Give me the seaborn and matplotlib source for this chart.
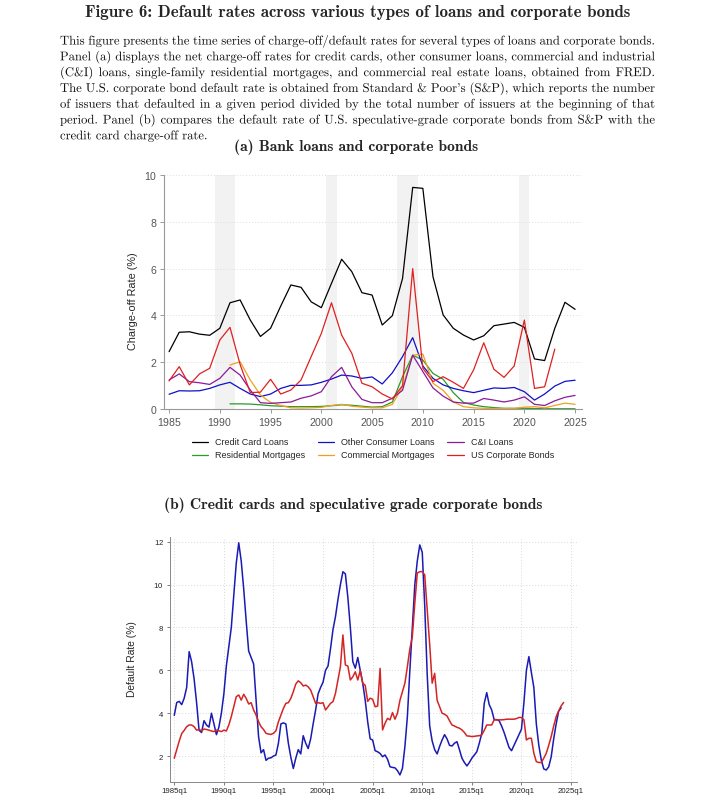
import numpy as np
import pandas as pd
import matplotlib
matplotlib.use("Agg")
import matplotlib.pyplot as plt
import seaborn as sns
from matplotlib.textpath import TextPath, TextToPath
from matplotlib.patches import PathPatch
from matplotlib.font_manager import FontProperties
from matplotlib.transforms import IdentityTransform

# Panel (a): annual charge-off / default rates (%)
years_a = list(range(1985, 2026))
years_mort = list(range(1991, 2026))
years_bonds = list(range(1985, 2024))

credit_card = [2.45, 3.28, 3.3, 3.2, 3.15, 3.45, 4.54, 4.66, 3.8, 3.1,
               3.45, 4.4, 5.3, 5.2, 4.58, 4.33, 5.37, 6.4, 5.87, 4.97,
               4.87, 3.59, 3.99, 5.58, 9.47, 9.43, 5.65, 4.02, 3.45, 3.16,
               2.95, 3.13, 3.56, 3.63, 3.7, 3.49, 2.14, 2.07, 3.45, 4.56, 4.26]
other_consumer = [0.63, 0.78, 0.77, 0.78, 0.88, 1.03, 1.14, 0.88, 0.64, 0.53,
                  0.64, 0.88, 1.01, 1.01, 1.03, 1.14, 1.28, 1.45, 1.41, 1.31,
                  1.37, 1.07, 1.55, 2.24, 3.05, 1.84, 1.31, 1.03, 0.88, 0.78,
                  0.7, 0.8, 0.9, 0.88, 0.92, 0.74, 0.38, 0.64, 0.98, 1.18, 1.23]
ci_loans = [1.24, 1.5, 1.17, 1.12, 1.05, 1.31, 1.78, 1.45, 0.81, 0.27,
            0.24, 0.27, 0.3, 0.46, 0.56, 0.74, 1.38, 1.78, 0.95, 0.41,
            0.27, 0.27, 0.46, 0.8, 2.3, 1.6, 0.9, 0.55, 0.3, 0.25,
            0.25, 0.45, 0.38, 0.3, 0.38, 0.52, 0.2, 0.15, 0.35, 0.5, 0.58]
resid_mortgages = [0.22, 0.22, 0.21, 0.18, 0.14, 0.12, 0.1, 0.1, 0.1, 0.11,
                   0.14, 0.18, 0.16, 0.12, 0.08, 0.1, 0.3, 1.38, 2.3, 2.09,
                   1.52, 1.27, 0.7, 0.28, 0.17, 0.1, 0.06, 0.03, 0.03, 0.03,
                   0.02, 0.01, 0.01, 0.01, 0.01]
comm_mortgages = [1.88, 2.02, 1.24, 0.6, 0.28, 0.15, 0.05, 0.04, 0.05, 0.07,
                  0.15, 0.2, 0.12, 0.08, 0.05, 0.05, 0.2, 0.95, 2.3, 2.35,
                  1.1, 0.8, 0.3, 0.1, 0.05, 0.03, 0.02, 0.02, 0.02, 0.08,
                  0.1, 0.05, 0.15, 0.25, 0.2]
us_corp_bonds = [1.2, 1.81, 1.03, 1.5, 1.74, 2.95, 3.49, 1.9, 0.7, 0.72,
                 1.27, 0.64, 0.81, 1.24, 2.24, 3.23, 4.54, 3.16, 2.38, 1.1,
                 0.95, 0.64, 0.43, 1.0, 6.0, 1.74, 1.17, 1.38, 1.14, 0.88,
                 1.67, 2.83, 1.7, 1.35, 1.84, 3.8, 0.88, 0.95, 2.56]

# recession shading (start, end)
recessions = [(1989.5, 1991.5), (2000.5, 2001.5), (2007.5, 2009.5), (2019.5, 2020.5)]

# Panel (b): quarterly, starting 1985q1
spec_grade = [3.9, 4.5, 4.55, 4.4, 4.7, 5.2, 6.87, 6.4, 5.6, 4.5, 3.2, 3.1,
              3.65, 3.45, 3.35, 4.0, 3.5, 3.0, 3.35, 4.0, 4.9, 6.2, 7.1, 8.0,
              9.5, 11.0, 11.95, 11.1, 9.8, 8.3, 6.9, 6.6, 6.3, 4.6, 2.9, 2.15,
              2.3, 1.8, 1.9, 1.92, 2.0, 2.05, 2.6, 3.5, 3.55, 3.5, 2.6, 1.95,
              1.42, 1.9, 2.3, 2.1, 2.95, 2.6, 2.35, 2.8, 3.5, 4.15, 4.9, 5.2,
              5.45, 6.0, 6.2, 7.0, 7.9, 8.5, 9.3, 10.0, 10.6, 10.5, 9.4, 8.0,
              6.4, 6.1, 6.6, 6.0, 5.4, 4.6, 3.6, 2.8, 2.75, 2.25, 2.2, 2.12,
              1.97, 2.05, 1.85, 1.5, 1.47, 1.45, 1.32, 1.12, 1.42, 2.44, 3.84, 6.0,
              8.0, 10.0, 11.1, 11.85, 11.5, 9.0, 5.8, 3.4, 2.7, 2.3, 2.1, 2.45,
              2.75, 3.0, 2.8, 2.5, 2.47, 2.6, 2.67, 2.3, 1.9, 1.7, 1.54, 1.7,
              1.9, 2.05, 2.2, 2.6, 3.06, 4.46, 4.96, 4.4, 4.15, 3.7, 3.7, 3.65,
              3.4, 3.1, 2.75, 2.4, 2.25, 2.5, 2.75, 3.0, 3.25, 4.5, 6.0, 6.64,
              5.9, 5.2, 3.5, 2.5, 1.82, 1.4, 1.35, 1.5, 1.97, 2.8, 3.5, 4.1,
              4.25]
cc_chargeoff_q = [1.9, 2.3, 2.7, 3.05, 3.2, 3.37, 3.45, 3.45, 3.37, 3.21, 3.24, 3.18,
                  3.26, 3.24, 3.21, 3.17, 3.14, 3.21, 3.18, 3.14, 3.21, 3.17, 3.45, 3.84,
                  4.3, 4.77, 4.85, 4.61, 4.88, 4.69, 4.43, 4.49, 4.15, 3.91, 3.6, 3.37,
                  3.24, 3.06, 3.03, 3.01, 3.06, 3.18, 3.6, 3.91, 4.22, 4.46, 4.49, 4.69,
                  5.0, 5.36, 5.51, 5.42, 5.27, 5.31, 5.23, 5.08, 4.77, 4.46, 4.49, 4.46,
                  4.49, 4.15, 4.3, 4.46, 4.54, 4.92, 5.55, 6.17, 7.65, 6.25, 6.2, 5.55,
                  5.7, 5.93, 5.55, 6.0, 5.4, 5.3, 4.55, 4.7, 4.65, 4.3, 4.33, 6.09,
                  3.22, 3.53, 3.76, 3.69, 4.03, 3.72, 4.0, 4.6, 5.0, 5.4, 6.17, 7.0,
                  7.58, 9.14, 10.54, 10.6, 10.61, 10.45, 8.8, 7.2, 5.4, 5.86, 4.6, 4.3,
                  4.0, 3.95, 3.87, 3.65, 3.45, 3.4, 3.34, 3.3, 3.22, 3.1, 2.94, 2.93,
                  2.91, 2.92, 2.94, 2.95, 2.99, 3.2, 3.45, 3.45, 3.45, 3.69, 3.69, 3.69,
                  3.69, 3.7, 3.72, 3.72, 3.72, 3.72, 3.75, 3.8, 3.8, 3.69, 2.75, 2.83,
                  2.83, 2.13, 1.74, 1.7, 1.7, 1.9, 2.13, 2.5, 2.91, 3.4, 3.84, 4.1,
                  4.34, 4.5]
qtr_ticks = list(range(1985, 2026, 5))
qtr_tick_labels = [f"{y}q1" for y in qtr_ticks]

title = "Figure 6: Default rates across various types of loans and corporate bonds"
caption = [
    "This figure presents the time series of charge-off/default rates for several types of loans and corporate bonds.",
    "Panel (a) displays the net charge-off rates for credit cards, other consumer loans, commercial and industrial",
    "(C&I) loans, single-family residential mortgages, and commercial real estate loans, obtained from FRED.",
    "The U.S. corporate bond default rate is obtained from Standard & Poor's (S&P), which reports the number",
    "of issuers that defaulted in a given period divided by the total number of issuers at the beginning of that",
    "period. Panel (b) compares the default rate of U.S. speculative-grade corporate bonds from S&P with the",
    "credit card charge-off rate.",
]

sns.set_style("white")
plt.rcParams['font.family'] = ['Liberation Sans', 'DejaVu Sans']
plt.rcParams['axes.formatter.use_mathtext'] = True

W, H = 711, 800
fig = plt.figure(figsize=(W / 100, H / 100), dpi=100)

fig.text(358 / W, 1 - 13 / H, title, family='cmb10', size=12.2, ha='center', va='center')

# justified caption, words drawn as paths so that they share one baseline
cap_px = 9.1 * 100 / 72
cap_font = FontProperties(family='cmr10', size=cap_px)
t2p = TextToPath()
left_px, right_px = 60, 655
for i, line in enumerate(caption):
    base = H - (44.5 + i * 15.8)
    words = line.split()
    widths = [t2p.get_text_width_height_descent(w, cap_font, ismath=False)[0] for w in words]
    if i < len(caption) - 1:
        gap = (right_px - left_px - sum(widths)) / (len(words) - 1)
    else:
        gap = 0.333 * cap_px
    x = left_px
    for w, wd in zip(words, widths):
        path = TextPath((x, base), w, size=cap_px, prop=cap_font)
        fig.add_artist(PathPatch(path, transform=IdentityTransform(),
                                 fc='#111111', ec='none', lw=0))
        x += wd + gap

# ---- Panel (a) ----
fig.text(356 / W, 1 - 147 / H, "(a) Bank loans and corporate bonds",
         family='cmb10', size=11.2, ha='center', va='center')

ax1 = fig.add_axes([164 / W, 1 - 409 / H, (581.7 - 164) / W, (409 - 175) / H])
for start, end in recessions:
    ax1.axvspan(start, end, color='#f2f2f2', lw=0, zorder=0)

series_a = [
    ("Credit Card Loans", years_a, credit_card, "black"),
    ("Residential Mortgages", years_mort, resid_mortgages, "#2a9a2a"),
    ("Other Consumer Loans", years_a, other_consumer, "#1010c8"),
    ("Commercial Mortgages", years_mort, comm_mortgages, "#f0a020"),
    ("C&I Loans", years_a, ci_loans, "#8a1a9a"),
    ("US Corporate Bonds", years_bonds, us_corp_bonds, "#e02020"),
]
handles = []
for label, xs, ys, color in series_a:
    sns.lineplot(x=xs, y=ys, ax=ax1, color=color, lw=0.9, legend=False)
    handles.append(ax1.lines[-1])

ax1.set_xlim(1984.5, 2025.65)
ax1.set_ylim(0, 10)
ax1.set_xticks(range(1985, 2026, 5))
ax1.set_yticks(range(0, 11, 2))
ax1.yaxis.grid(True, ls=(0, (1, 2)), color='#dddddd', lw=0.7)
ax1.set_axisbelow(True)
for side in ['top', 'right']:
    ax1.spines[side].set_visible(False)
for side in ['left', 'bottom']:
    ax1.spines[side].set_color('#999999')
    ax1.spines[side].set_linewidth(0.8)
ax1.tick_params(axis='both', length=3, width=0.7, color='#999999', labelcolor='#555555',
                labelsize=7.6, direction='out', pad=2, left=True, bottom=True)
ax1.set_ylabel("Charge-off Rate (%)", fontsize=7.8)
ax1.yaxis.set_label_coords(-0.062, 0.46)
ax1.set_xlabel("")
ax1.legend(handles, [s[0] for s in series_a], ncol=3, loc='center',
           bbox_to_anchor=(0.5, -0.171), frameon=False, fontsize=6.5,
           handlelength=1.8, handletextpad=0.8, columnspacing=1.4, labelspacing=0.45)

# ---- Panel (b) ----
fig.text(353 / W, 1 - 505 / H, "(b) Credit cards and speculative grade corporate bonds",
         family='cmb10', size=11.2, ha='center', va='center')

ax2 = fig.add_axes([170 / W, 1 - 782 / H, 407 / W, 245 / H])
q_spec = pd.DataFrame({"t": 1985 + np.arange(len(spec_grade)) / 4, "rate": spec_grade})
q_cc = pd.DataFrame({"t": 1985 + np.arange(len(cc_chargeoff_q)) / 4, "rate": cc_chargeoff_q})
sns.lineplot(data=q_spec, x="t", y="rate", ax=ax2, color="#1a1ab4", lw=1.1, legend=False)
sns.lineplot(data=q_cc, x="t", y="rate", ax=ax2, color="#d42424", lw=1.1, legend=False)

ax2.set_xlim(1984.57, 2025.6)
ax2.set_ylim(0.79, 12.22)
ax2.set_xticks(qtr_ticks)
ax2.set_xticklabels(qtr_tick_labels)
ax2.set_yticks(range(2, 13, 2))
ax2.grid(True, ls=(0, (1, 2)), color='#d8d8d8', lw=0.7)
ax2.set_axisbelow(True)
for side in ['top', 'right']:
    ax2.spines[side].set_visible(False)
for side in ['left', 'bottom']:
    ax2.spines[side].set_color('#888888')
    ax2.spines[side].set_linewidth(0.7)
ax2.tick_params(axis='both', length=2.5, width=0.6, color='#666666', labelcolor='#222222',
                labelsize=5.6, direction='out', pad=2, left=True, bottom=True)
ax2.set_ylabel("Default Rate (%)", fontsize=7.4)
ax2.yaxis.set_label_coords(-0.081, 0.5)
ax2.set_xlabel("")

fig.savefig("out.png", dpi=100)
